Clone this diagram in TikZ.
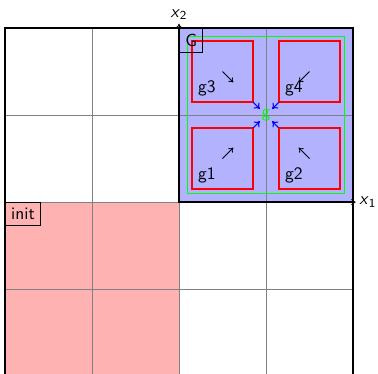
\documentclass[tikz,border=0pt]{standalone}
\usetikzlibrary{arrows.meta}
\begin{document}
\begin{tikzpicture}[x=1.75cm,y=1.75cm,font=\sffamily,
  gridline/.style={gray,line width=0.5pt},
  region/.style={draw=red,line width=0.75pt},
  moveto/.style={-{To[length=2.5pt,width=3.5pt]},line width=0.5pt},
  gather/.style={blue,-{To[length=3pt,width=4.5pt]},line width=0.6pt},
  tag/.style={draw=black,line width=0.5pt},
  glabel/.style={anchor=south west}]
\useasboundingbox (-2.057,-1.966) rectangle (2.287,2.322);
% regions
\fill[red!30] (-2,-2) rectangle (0,0);
\fill[blue!30] (0,0) rectangle (2,2);
% grid
\draw[gridline,step=1.75cm] (-2,-2) grid (2,2);
\draw[line width=0.8pt] (0,0) rectangle (2,2);
\draw[line width=0.8pt] (-2,-2) rectangle (2,2);
% target set
\draw[green,line width=0.55pt] (0.1,0.1) rectangle (1.9,1.9);
\draw[region] (0.15,0.15) rectangle (0.85,0.85);
\draw[region] (1.15,0.15) rectangle (1.85,0.85);
\draw[region] (0.15,1.15) rectangle (0.85,1.85);
\draw[region] (1.15,1.15) rectangle (1.85,1.85);
\node[glabel] (g1) at (0.15,0.15) {g1};
\node[glabel] (g2) at (1.15,0.15) {g2};
\node[glabel] (g3) at (0.15,1.15) {g3};
\node[glabel] (g4) at (1.15,1.15) {g4};
\node[green,inner sep=1pt] (g) at (1,1) {g};
% inner arrows
\coordinate (c1) at (0.5,0.5);
\coordinate (c2) at (1.5,0.5);
\coordinate (c3) at (0.5,1.5);
\coordinate (c4) at (1.5,1.5);
\coordinate (d1) at (0.625,0.625);
\coordinate (d2) at (1.375,0.625);
\coordinate (d3) at (0.625,1.375);
\coordinate (d4) at (1.375,1.375);
\draw[moveto] (c1) -- (d1);
\draw[moveto] (c2) -- (d2);
\draw[moveto] (c3) -- (d3);
\draw[moveto] (c4) -- (d4);
% blue arrows to g
\coordinate (k1) at (0.85,0.85);
\coordinate (k2) at (1.15,0.85);
\coordinate (k3) at (0.85,1.15);
\coordinate (k4) at (1.15,1.15);
\coordinate (e1) at (0.93,0.93);
\coordinate (e2) at (1.07,0.93);
\coordinate (e3) at (0.93,1.07);
\coordinate (e4) at (1.07,1.07);
\draw[gather] (k1) -- (e1);
\draw[gather] (k2) -- (e2);
\draw[gather] (k3) -- (e3);
\draw[gather] (k4) -- (e4);
% axes
\coordinate (o) at (0,0);
\coordinate (ax1) at (2.03,0);
\coordinate (ax2) at (0,2.05);
\draw[moveto] (o) -- (ax1);
\draw[moveto] (o) -- (ax2);
\node[anchor=west,inner sep=2pt] (x1) at (ax1) {\textit{x}\textsubscript{1}};
\node[anchor=south,inner sep=2pt] (x2) at (ax2) {\textit{x}\textsubscript{2}};
% tags
\node[tag,anchor=north west] (G) at (0,2) {G};
\node[tag,anchor=north west] (init) at (-2,0) {init};
\end{tikzpicture}
\end{document}
